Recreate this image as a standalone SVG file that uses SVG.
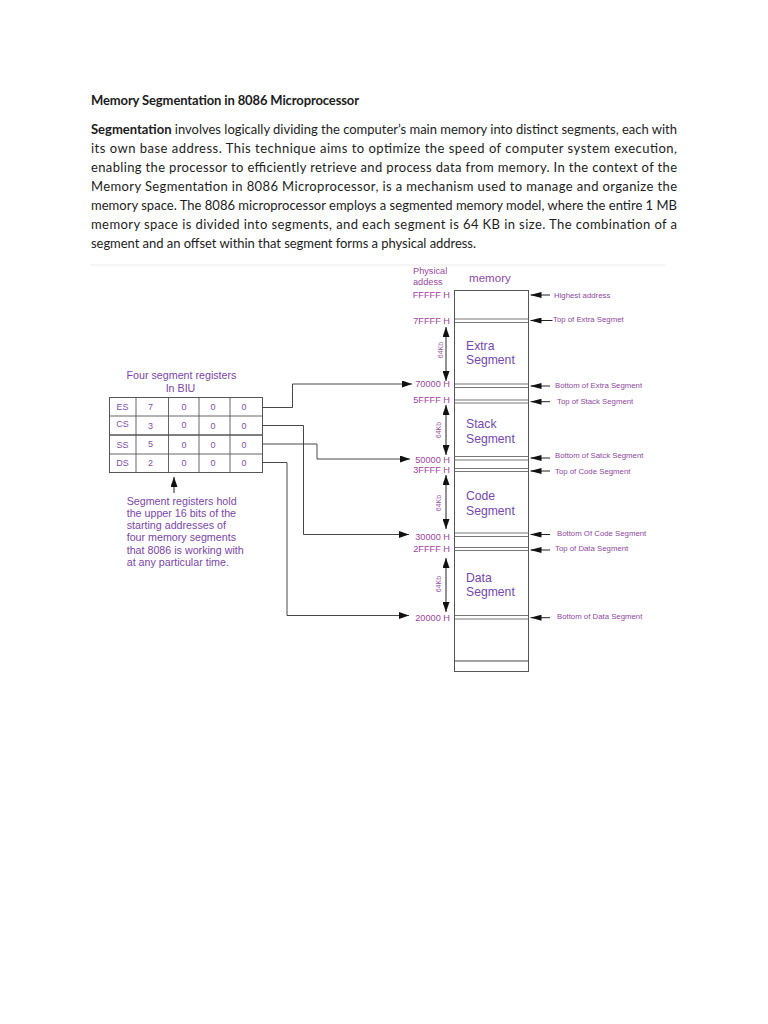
<svg xmlns="http://www.w3.org/2000/svg" width="768" height="1024" viewBox="0 0 768 1024">
<defs>
<marker id="ah" markerUnits="userSpaceOnUse" markerWidth="10" markerHeight="7" refX="10" refY="3.5" orient="auto-start-reverse">
<path d="M0,0 L10,3.5 L0,7 z" fill="#111"/>
</marker>
<marker id="ahs" markerUnits="userSpaceOnUse" markerWidth="11" markerHeight="6" refX="11" refY="3" orient="auto">
<path d="M0,0 L11,3 L0,6 z" fill="#111"/>
</marker>
</defs>
<style>
.para{font-family:Lato,"Open Sans","Liberation Sans",sans-serif;font-size:13px;fill:#1c1c1c}
.b{font-weight:bold}
.dg{font-family:"Liberation Sans",Arial,sans-serif}
.addr{font-size:9.2px;fill:#a0449c;text-anchor:end}
.hdr{font-size:9.2px;fill:#9a48a0}
.mem{font-size:11.6px;fill:#8a4aa8}
.seg{font-size:12.2px;fill:#7448ae}
.kb{font-size:7px;fill:#9a52a8;text-anchor:middle}
.ann{font-size:7.8px;fill:#8e48a0}
.reg{font-size:9px;fill:#8050a8;text-anchor:middle}
.note{font-size:10.7px;fill:#7c46a8}
.box{fill:none;stroke:#555;stroke-width:1}
.dl{stroke:#666;stroke-width:0.9}
.con{fill:none;stroke:#333;stroke-width:0.9}
.arr{stroke:#222;stroke-width:1}
</style>
<rect width="768" height="1024" fill="#fff"/>

<g id="text-block">
<text class="para b" x="91" y="105" textLength="268" lengthAdjust="spacing">Memory Segmentation in 8086 Microprocessor</text>
<text class="para" x="91" y="134" textLength="586" lengthAdjust="spacing"><tspan class="b">Segmentation</tspan> involves logically dividing the computer’s main memory into distinct segments, each with</text>
<text class="para" x="91" y="153" textLength="586" lengthAdjust="spacing">its own base address. This technique aims to optimize the speed of computer system execution,</text>
<text class="para" x="91" y="172" textLength="586" lengthAdjust="spacing">enabling the processor to efficiently retrieve and process data from memory. In the context of the</text>
<text class="para" x="91" y="191" textLength="586" lengthAdjust="spacing">Memory Segmentation in 8086 Microprocessor, is a mechanism used to manage and organize the</text>
<text class="para" x="91" y="210" textLength="586" lengthAdjust="spacing">memory space. The 8086 microprocessor employs a segmented memory model, where the entire 1 MB</text>
<text class="para" x="91" y="229" textLength="586" lengthAdjust="spacing">memory space is divided into segments, and each segment is 64 KB in size. The combination of a</text>
<text class="para" x="91" y="248" textLength="385" lengthAdjust="spacing">segment and an offset within that segment forms a physical address.</text>
</g>

<line x1="90" y1="265" x2="665" y2="265" stroke="#ececec" stroke-width="1"/>

<g id="memory">
<text class="dg hdr" x="413" y="274">Physical</text>
<text class="dg hdr" x="413" y="285">addess</text>
<text class="dg mem" x="469" y="281.5">memory</text>
<rect class="box" x="454.5" y="290.5" width="74" height="381"/>
<line class="dl" x1="454.5" y1="319" x2="528.5" y2="319"/>
<line class="dl" x1="454.5" y1="322.5" x2="528.5" y2="322.5"/>
<line class="dl" x1="454.5" y1="384" x2="528.5" y2="384"/>
<line class="dl" x1="454.5" y1="387.5" x2="528.5" y2="387.5"/>
<line class="dl" x1="454.5" y1="400" x2="528.5" y2="400"/>
<line class="dl" x1="454.5" y1="403" x2="528.5" y2="403"/>
<line class="dl" x1="454.5" y1="456.5" x2="528.5" y2="456.5"/>
<line class="dl" x1="454.5" y1="460" x2="528.5" y2="460"/>
<line class="dl" x1="454.5" y1="468.5" x2="528.5" y2="468.5"/>
<line class="dl" x1="454.5" y1="471.5" x2="528.5" y2="471.5"/>
<line class="dl" x1="454.5" y1="533" x2="528.5" y2="533"/>
<line class="dl" x1="454.5" y1="536.5" x2="528.5" y2="536.5"/>
<line class="dl" x1="454.5" y1="547.5" x2="528.5" y2="547.5"/>
<line class="dl" x1="454.5" y1="550.5" x2="528.5" y2="550.5"/>
<line class="dl" x1="454.5" y1="615.5" x2="528.5" y2="615.5"/>
<line class="dl" x1="454.5" y1="619" x2="528.5" y2="619"/>
<line x1="454.5" y1="661" x2="528.5" y2="661" stroke="#444" stroke-width="1.2"/>
</g>

<g id="addresses">
<text class="dg addr" x="450" y="298">FFFFF H</text>
<text class="dg addr" x="450" y="324">7FFFF H</text>
<text class="dg addr" x="450" y="386.5">70000 H</text>
<text class="dg addr" x="450" y="402.5">5FFFF H</text>
<text class="dg addr" x="450" y="462.5">50000 H</text>
<text class="dg addr" x="450" y="473">3FFFF H</text>
<text class="dg addr" x="450" y="540">30000 H</text>
<text class="dg addr" x="450" y="552">2FFFF H</text>
<text class="dg addr" x="450" y="620.5">20000 H</text>
</g>

<g id="seg-extra">
<text class="dg seg" x="466" y="350">Extra</text>
<text class="dg seg" x="466" y="364">Segment</text>
<line class="arr" x1="446" y1="327" x2="446" y2="381" marker-start="url(#ah)" marker-end="url(#ah)"/>
<text class="dg kb" transform="translate(442.5,350) rotate(-90)">64Kb</text>
</g>
<g id="seg-stack">
<text class="dg seg" x="466" y="427.5">Stack</text>
<text class="dg seg" x="466" y="442.5">Segment</text>
<line class="arr" x1="446" y1="405" x2="446" y2="455" marker-start="url(#ah)" marker-end="url(#ah)"/>
<text class="dg kb" transform="translate(441,430) rotate(-90)">64Kb</text>
</g>
<g id="seg-code">
<text class="dg seg" x="466" y="500">Code</text>
<text class="dg seg" x="466" y="514.5">Segment</text>
<line class="arr" x1="446" y1="475" x2="446" y2="529" marker-start="url(#ah)" marker-end="url(#ah)"/>
<text class="dg kb" transform="translate(441,503) rotate(-90)">64Kb</text>
</g>
<g id="seg-data">
<text class="dg seg" x="466" y="581.5">Data</text>
<text class="dg seg" x="466" y="596">Segment</text>
<line class="arr" x1="446" y1="558" x2="446" y2="612" marker-start="url(#ah)" marker-end="url(#ah)"/>
<text class="dg kb" transform="translate(441,584) rotate(-90)">64Kb</text>
</g>

<g id="annotations">
<line class="arr" x1="550" y1="295" x2="530.5" y2="295" marker-end="url(#ahs)"/>
<text class="dg ann" x="554" y="297.8">Highest address</text>
<line class="arr" x1="552.5" y1="320.5" x2="530.5" y2="320.5" marker-end="url(#ahs)"/>
<text class="dg ann" x="553" y="322">Top of Extra Segmet</text>
<line class="arr" x1="550" y1="386" x2="530.5" y2="386" marker-end="url(#ahs)"/>
<text class="dg ann" x="555" y="387.5">Bottom of Extra Segment</text>
<line class="arr" x1="550" y1="401.7" x2="530.5" y2="401.7" marker-end="url(#ahs)"/>
<text class="dg ann" x="557" y="404">Top of Stack Segment</text>
<line class="arr" x1="550" y1="458" x2="530.5" y2="458" marker-end="url(#ahs)"/>
<text class="dg ann" x="555" y="457.5">Bottom of Satck Segment</text>
<line class="arr" x1="550" y1="471" x2="530.5" y2="471" marker-end="url(#ahs)"/>
<text class="dg ann" x="555" y="473.5">Top of Code Segment</text>
<line class="arr" x1="550" y1="534.5" x2="530.5" y2="534.5" marker-end="url(#ahs)"/>
<text class="dg ann" x="557" y="536">Bottom Of Code Segment</text>
<line class="arr" x1="550" y1="550" x2="530.5" y2="550" marker-end="url(#ahs)"/>
<text class="dg ann" x="555" y="551">Top of Data Segment</text>
<line class="arr" x1="550" y1="617.7" x2="530.5" y2="617.7" marker-end="url(#ahs)"/>
<text class="dg ann" x="557" y="619">Bottom of Data Segment</text>
</g>

<g id="registers">
<text class="dg note" x="181.5" y="379" text-anchor="middle">Four segment registers</text>
<text class="dg note" x="180.5" y="391.5" text-anchor="middle">In BIU</text>
<rect x="109.5" y="397.5" width="153" height="75" fill="none" stroke="#555" stroke-width="1"/>
<line x1="109.5" y1="416" x2="262.5" y2="416" stroke="#555" stroke-width="0.9"/>
<line x1="109.5" y1="435" x2="262.5" y2="435" stroke="#555" stroke-width="1.3"/>
<line x1="109.5" y1="454" x2="262.5" y2="454" stroke="#555" stroke-width="0.9"/>
<line x1="136" y1="397.5" x2="136" y2="472.5" stroke="#555" stroke-width="0.9"/>
<line x1="168.5" y1="397.5" x2="168.5" y2="472.5" stroke="#555" stroke-width="0.9"/>
<line x1="199" y1="397.5" x2="199" y2="472.5" stroke="#555" stroke-width="0.9"/>
<line x1="230" y1="397.5" x2="230" y2="472.5" stroke="#555" stroke-width="0.9"/>
<text class="dg reg" x="122.5" y="410.2">ES</text>
<text class="dg reg" x="150.5" y="410.2">7</text>
<text class="dg reg" x="184" y="410.2">0</text>
<text class="dg reg" x="213" y="410.2">0</text>
<text class="dg reg" x="244" y="410.2">0</text>
<text class="dg reg" x="122.5" y="427">CS</text>
<text class="dg reg" x="150.5" y="428.7">3</text>
<text class="dg reg" x="184" y="427.5">0</text>
<text class="dg reg" x="213" y="428.7">0</text>
<text class="dg reg" x="244" y="428.7">0</text>
<text class="dg reg" x="122.5" y="447.7">SS</text>
<text class="dg reg" x="150.5" y="447.2">5</text>
<text class="dg reg" x="184" y="447.7">0</text>
<text class="dg reg" x="213" y="447.7">0</text>
<text class="dg reg" x="244" y="447.7">0</text>
<text class="dg reg" x="122.5" y="466.2">DS</text>
<text class="dg reg" x="150.5" y="466.2">2</text>
<text class="dg reg" x="184" y="466.2">0</text>
<text class="dg reg" x="213" y="466.2">0</text>
<text class="dg reg" x="244" y="466.2">0</text>
</g>

<g id="note">
<line class="arr" x1="174" y1="493" x2="174" y2="477" marker-end="url(#ah)"/>
<text class="dg note" x="126.7" y="504.5">Segment registers hold</text>
<text class="dg note" x="126.7" y="516.8">the upper 16 bits of the</text>
<text class="dg note" x="126.7" y="529.1">starting addresses of</text>
<text class="dg note" x="126.7" y="541.4">four memory segments</text>
<text class="dg note" x="126.7" y="553.7">that 8086 is working with</text>
<text class="dg note" x="126.7" y="566">at any particular time.</text>
</g>

<g id="connectors">
<path class="con" d="M262.5,407.5 H292.5 V384 H412" marker-end="url(#ah)"/>
<path class="con" d="M262.5,425.5 H303.5 V534.5 H409" marker-end="url(#ah)"/>
<path class="con" d="M262.5,444 H317 V459 H410" marker-end="url(#ah)"/>
<path class="con" d="M262.5,462.5 H287 V615.5 H409" marker-end="url(#ah)"/>
</g>
</svg>
